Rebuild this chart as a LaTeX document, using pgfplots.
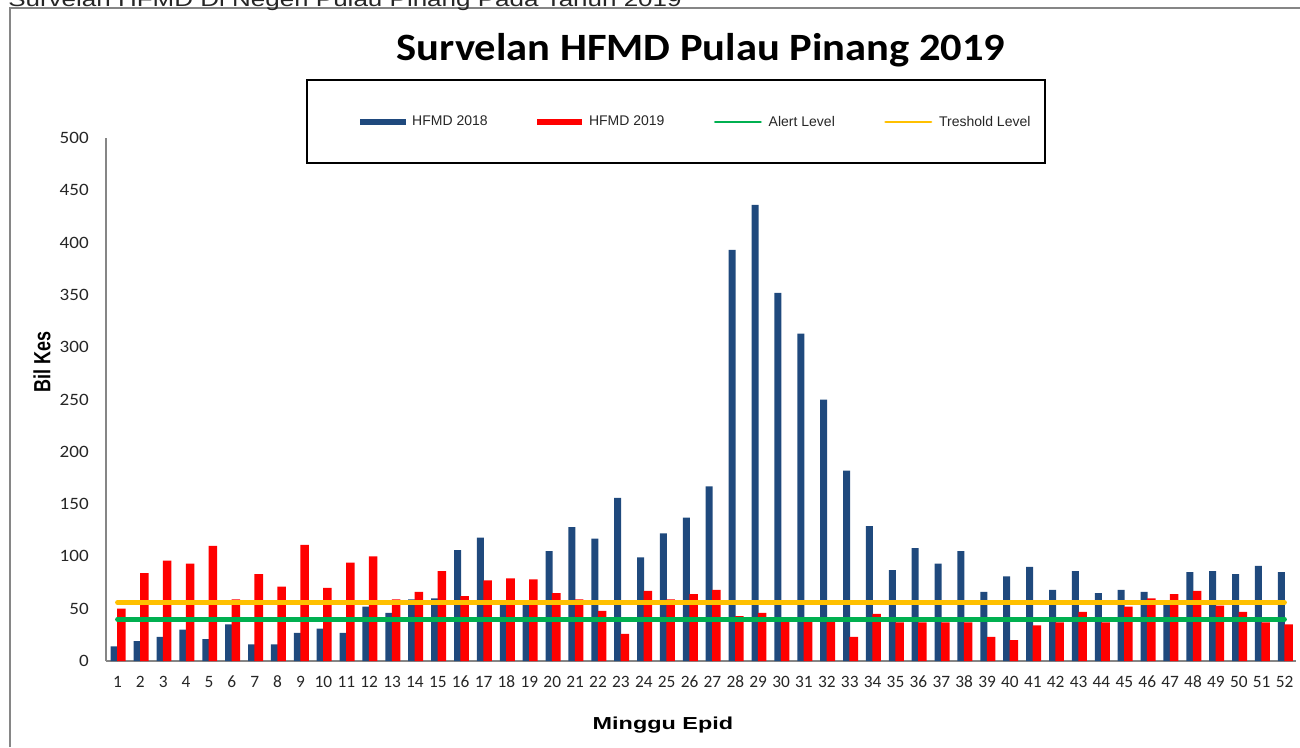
\documentclass[border=0pt]{standalone}
\usepackage{pgfplots}
\pgfplotsset{compat=1.18}
\usepackage{pgfplotstable}
\usepackage{graphicx}
\usepackage{fontspec}
\setmainfont{Liberation Sans}
\newfontfamily\carlito{Carlito}

\definecolor{bblue}{RGB}{31,73,125}
\definecolor{bred}{RGB}{255,0,0}
\definecolor{bgreen}{RGB}{0,176,80}
\definecolor{byellow}{RGB}{255,192,0}
\definecolor{axgray}{RGB}{134,134,134}

\pgfplotstableread{
w b r
1 14 50
2 19 84
3 23 96
4 30 93
5 21 110
6 35 59
7 16 83
8 16 71
9 27 111
10 31 70
11 27 94
12 52 100
13 46 59
14 59 66
15 60 86
16 106 62
17 118 77
18 56 79
19 56 78
20 105 65
21 128 59
22 117 48
23 156 26
24 99 67
25 122 59
26 137 64
27 167 68
28 393 43
29 436 46
30 352 38
31 313 38
32 250 38
33 182 23
34 129 45
35 87 37
36 108 37
37 93 37
38 105 37
39 66 23
40 81 20
41 90 34
42 68 37
43 86 47
44 65 37
45 68 52
46 66 60
47 56 64
48 85 67
49 86 53
50 83 47
51 91 37
52 85 35
}\hfmd

\begin{document}
\begin{tikzpicture}
\begin{scope}[x=0.75pt,y=-0.75pt]
\path[use as bounding box] (0,0) rectangle (1300,747);
\draw[axgray, line width=0.9pt] (10,747) -- (10,8) -- (1300,8);
\node[anchor=base west, inner sep=0, text=black!85] at (8,6) {\fontsize{15}{18}\selectfont\scalebox{1.3}[1]{Survelan HFMD Di Negeri Pulau Pinang Pada Tahun 2019}};
\node[anchor=base, inner sep=0] at (701,60) {\carlito\bfseries\fontsize{29}{34}\selectfont\scalebox{1.1}[1]{Survelan HFMD Pulau Pinang 2019}};
\draw[black, line width=1.4pt] (307,80) rectangle (1045,163);
\end{scope}

\begin{axis}[
  at={(79.5pt,-495.75pt)}, anchor=south west,
  scale only axis, width=892.5pt, height=392.25pt,
  xmin=0.5, xmax=52.5, ymin=0, ymax=500,
  axis x line*=bottom, axis y line*=left,
  axis line style={axgray, line width=1.1pt, -},
  xtick={1,...,52}, ytick={0,50,...,500},
  major tick length=0pt,
  tick style={draw=none},
  /pgf/number format/assume math mode=true,
  ticklabel style={font=\carlito\fontsize{13}{15}\selectfont, text=black!85},
  xticklabel style={inner sep=0pt, anchor=base, yshift=-19.5pt},
  yticklabel style={inner sep=0pt, anchor=east, xshift=-12.75pt},
  yticklabel={\scalebox{1.1}[1]{\pgfmathprintnumber{\tick}}},
  xlabel={\scalebox{1.35}[1]{Minggu Epid}},
  ylabel={\scalebox{1}[1.3]{Bil Kes}},
  every axis x label/.style={at={(axis description cs:0.468,-0.130)}, anchor=base, font=\bfseries\fontsize{13}{15}\selectfont},
  every axis y label/.style={at={(axis description cs:-0.0538,0.572)}, rotate=90, anchor=center, font=\bfseries\fontsize{13.5}{15}\selectfont},
  legend columns=4,
  legend style={at={(axis description cs:0.2134,1.0306)}, anchor=west, draw=none, fill=none,
    inner xsep=0pt, font=\fontsize{10.5}{12}\selectfont, text=black!85,
    /tikz/every odd column/.append style={column sep=3pt},
    /tikz/every even column/.append style={column sep=35pt}},
]
\addplot[ybar, bar width=5.25pt, bar shift=-2.4pt, fill=bblue, draw=none,
  legend image code/.code={\fill[bblue] (0pt,-2.6pt) rectangle (34pt,2.6pt);}]
  table[x=w, y=b]{\hfmd};
\addlegendentry{HFMD 2018}
\addplot[ybar, bar width=6.4pt, bar shift=3pt, fill=bred, draw=none,
  legend image code/.code={\fill[bred] (0pt,-2.6pt) rectangle (34pt,2.6pt);}]
  table[x=w, y=r]{\hfmd};
\addlegendentry{HFMD 2019}
\addplot[bgreen, line width=3.5pt, line cap=round, mark=none,
  legend image code/.code={\draw[bgreen, line width=2.2pt] (0pt,0pt) -- (34pt,0pt);}]
  coordinates {(1,40) (52,40)};
\addlegendentry{Alert Level}
\addplot[byellow, line width=3.5pt, line cap=round, mark=none,
  legend image code/.code={\draw[byellow, line width=2.2pt] (0pt,0pt) -- (34pt,0pt);}]
  coordinates {(1,56) (52,56)};
\addlegendentry{Treshold Level}
\end{axis}
\end{tikzpicture}
\end{document}
